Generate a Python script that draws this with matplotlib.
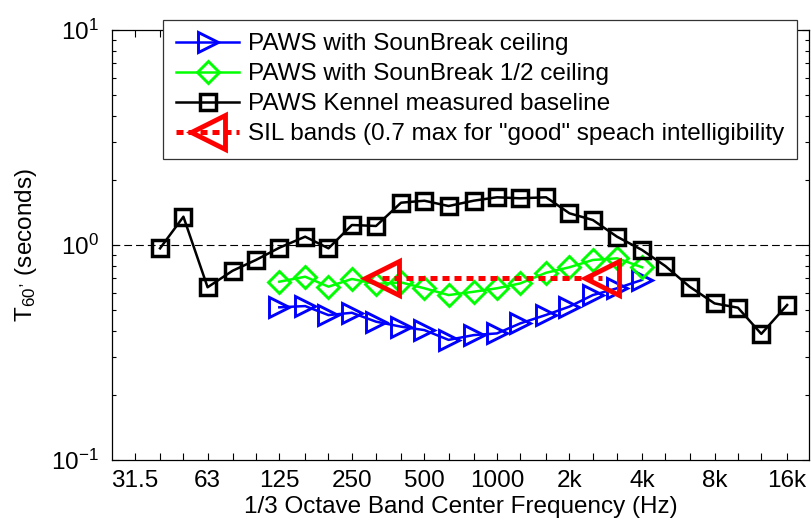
import numpy as np
import matplotlib
matplotlib.use('Agg')
import matplotlib.pyplot as plt
from matplotlib.ticker import FixedLocator, FixedFormatter, LogLocator, NullFormatter

#%% Data (T60 read per 1/3 octave band)
bands_kennel = [40, 50, 63, 80, 100, 125, 160, 200, 250, 315, 400, 500, 630, 800, 1000,
                1250, 1600, 2000, 2500, 3150, 4000, 5000, 6300, 8000, 10000, 12500, 16000]
t60_kennel = [0.965, 1.354, 0.636, 0.759, 0.852, 0.971, 1.093, 0.965, 1.239, 1.226, 1.573,
              1.607, 1.518, 1.607, 1.667, 1.649, 1.667, 1.404, 1.307, 1.093, 0.948, 0.798,
              0.640, 0.535, 0.511, 0.386, 0.526]

bands_paws = [125, 160, 200, 250, 315, 400, 500, 630, 800, 1000, 1250, 1600, 2000, 2500, 3150, 4000]
t60_ceiling = [0.513, 0.520, 0.472, 0.484, 0.440, 0.417, 0.402, 0.362, 0.381, 0.388, 0.432,
               0.473, 0.517, 0.585, 0.629, 0.688]
t60_half = [0.675, 0.712, 0.640, 0.695, 0.659, 0.670, 0.629, 0.585, 0.606, 0.629, 0.663,
            0.743, 0.788, 0.852, 0.867, 0.788]

sil_freq = [335, 2740]
sil_t60 = [0.7, 0.7]

# 1/3 octave ticks, labels only at octaves
tick_freqs = [31.5, 40, 50, 63, 80, 100, 125, 160, 200, 250, 315, 400, 500, 630, 800, 1000,
              1250, 1600, 2000, 2500, 3150, 4000, 5000, 6300, 8000, 10000, 12500, 16000]
tick_labels = ['31.5', '', '', '63', '', '', '125', '', '', '250', '', '', '500', '', '', '1000',
               '', '', '2k', '', '', '4k', '', '', '8k', '', '', '16k']

#%%
plt.rcParams['font.family'] = ['Liberation Sans', 'DejaVu Sans']
plt.rcParams['mathtext.fontset'] = 'custom'
plt.rcParams['mathtext.rm'] = 'Liberation Sans'
plt.rcParams['mathtext.it'] = 'Liberation Sans:italic'
fnt = 17.5

fig = plt.figure(figsize=(8.11, 5.24), dpi=100)
ax = fig.add_axes([111.7/811, 1 - 460/524, (809 - 111.7)/811, 430/524])

ax.plot(bands_paws, t60_ceiling, '-', marker='>', color='b', mfc='none', mec='b',
        ms=15, mew=2.1, lw=1.8, label='PAWS with SounBreak ceiling')
ax.plot(bands_paws, t60_half, '-', marker='D', color=(0, 1, 0), mfc='none', mec=(0, 1, 0),
        ms=11, mew=2.1, lw=1.8, label='PAWS with SounBreak 1/2 ceiling')
ax.plot(bands_kennel, t60_kennel, '-', marker='s', color='k', mfc='none', mec='k',
        ms=12, mew=2.5, lw=1.8, label='PAWS Kennel measured baseline')
ax.plot(sil_freq, sil_t60, linestyle=(0, (1.4, 1.0)), marker='<', color='r', mfc='none',
        mec='r', ms=24, mew=3.5, lw=3.6, dash_capstyle='butt',
        label='SIL bands (0.7 max for "good" speach intelligibility')
ax.axhline(1, color='k', lw=0.8, linestyle=(0, (7, 3.6)), zorder=0)

ax.set_xscale('log')
ax.set_yscale('log')
ax.set_xlim(25.2, 19720)
ax.set_ylim(0.1, 10)

ax.xaxis.set_major_locator(FixedLocator(tick_freqs))
ax.xaxis.set_major_formatter(FixedFormatter(tick_labels))
ax.xaxis.set_minor_locator(FixedLocator([]))
ax.yaxis.set_major_locator(LogLocator(base=10))
ax.yaxis.set_minor_locator(LogLocator(base=10, subs=np.arange(2, 10)))
ax.yaxis.set_minor_formatter(NullFormatter())

ax.tick_params(which='both', direction='in', top=True, right=True, labelsize=fnt)
ax.tick_params(axis='x', which='major', length=5, width=0.8, pad=7)
ax.tick_params(axis='y', which='major', length=5, width=0.8, pad=9)
ax.tick_params(axis='y', which='minor', length=3, width=0.8)
for s in ax.spines.values():
    s.set_linewidth(0.9)

ax.set_xlabel('1/3 Octave Band Center Frequency (Hz)', fontsize=fnt, labelpad=3)
ax.set_ylabel('T$_{60}$$^{,}$ (seconds)', fontsize=fnt, labelpad=9)

leg = ax.legend(loc='upper left', bbox_to_anchor=(162.7/811, 1 - 20/524),
                bbox_transform=fig.transFigure, borderaxespad=0, fontsize=fnt,
                handlelength=2.6, handletextpad=0.35, labelspacing=0.33, borderpad=0.55,
                fancybox=False, framealpha=1, edgecolor='0.2', numpoints=1)
leg.get_frame().set_linewidth(0.9)

fig.savefig('out.png', dpi=100)
